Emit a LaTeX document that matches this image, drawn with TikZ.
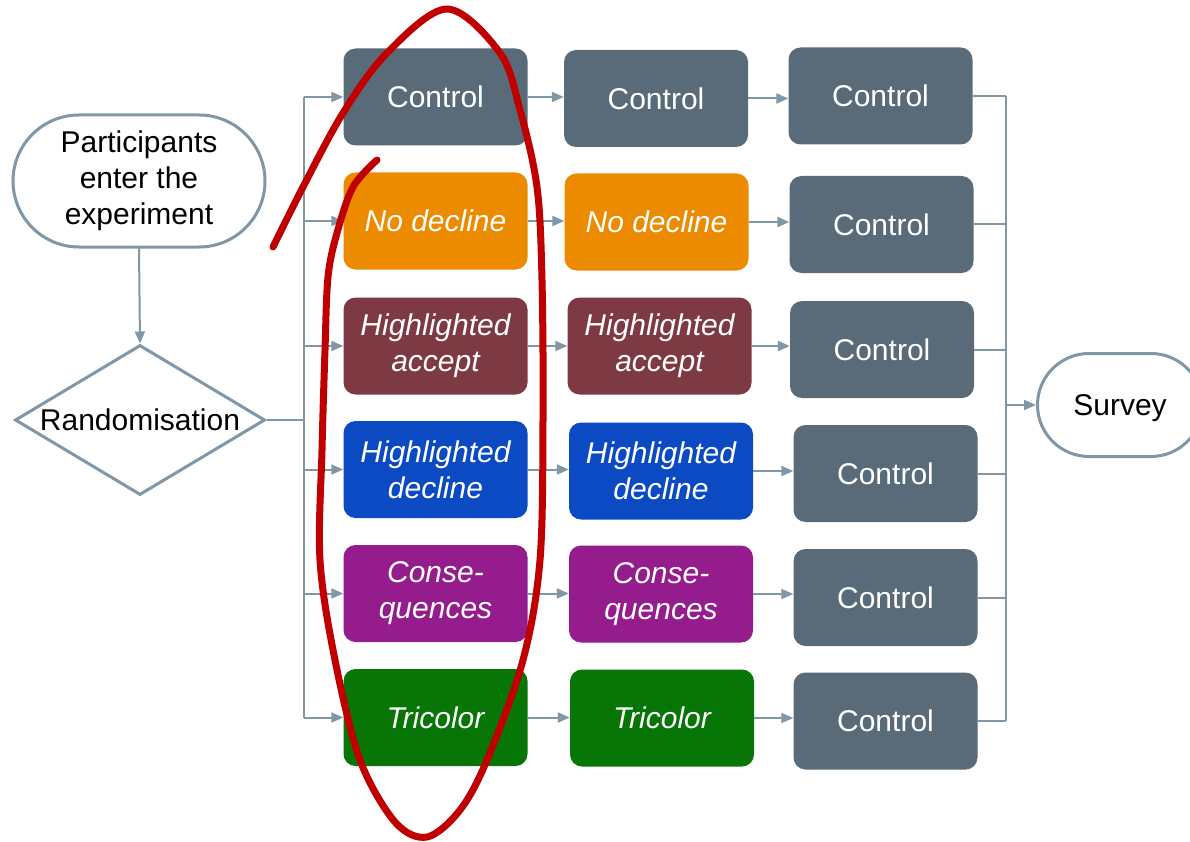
\documentclass[tikz,border=0pt]{standalone}
\usepackage{fontspec}
\setmainfont{Liberation Sans}
\usetikzlibrary{arrows.meta,shapes.geometric,shapes.misc}
\definecolor{boxgray}{HTML}{596B78}
\definecolor{boxorange}{HTML}{EC8A00}
\definecolor{boxmaroon}{HTML}{7E3A43}
\definecolor{boxblue}{HTML}{0B4AC2}
\definecolor{boxpurple}{HTML}{951C8C}
\definecolor{boxgreen}{HTML}{087507}
\definecolor{linec}{HTML}{7F97A6}
\definecolor{markred}{HTML}{C00000}
\tikzset{
  box/.style={rounded corners=12pt, minimum width=184pt, minimum height=97pt,
    inner sep=0pt, text=white, align=center, font=\fontsize{30}{36}\selectfont},
  term/.style={rounded rectangle, draw=linec, line width=3pt, fill=white,
    inner sep=0pt, align=center, font=\fontsize{30}{36}\selectfont},
  decide/.style={diamond, draw=linec, line width=3pt, fill=white, inner sep=0pt,
    shape aspect=1.667, minimum width=250pt, minimum height=150pt,
    font=\fontsize{30}{36}\selectfont},
  conn/.style={draw=linec, line width=2pt},
  arr/.style={-{Triangle[length=12pt,width=10pt]}},
  marker/.style={draw=markred, line width=7pt, line cap=round},
}
\begin{document}
\begin{tikzpicture}[x=1pt,y=-1pt]
\useasboundingbox (0,0) rectangle (1190,842);
\fill[white] (0,0) rectangle (1190,842);

% start / decision / end
\node[term, minimum width=252pt, minimum height=132pt] (start) at (139,181)
  {\raisebox{0pt}[0pt][0pt]{}Participants\\enter the\\experiment};
\node[decide] (rand) at (140,420) {Randomisation};
\node[term, minimum width=165pt, minimum height=103pt, text depth=0pt] (survey) at (1120,405) {Survey};

% column 1
\node[box, fill=boxgray]   (a1) at (435.5,97)    {Control};
\node[box, fill=boxorange] (a2) at (435.5,221)   {\itshape No decline};
\node[box, fill=boxmaroon] (a3) at (435.5,346)   {\itshape Highlighted\\\itshape accept};
\node[box, fill=boxblue]   (a4) at (435.5,469.5) {\itshape Highlighted\\\itshape decline};
\node[box, fill=boxpurple] (a5) at (435.5,593.5) {\itshape Conse-\\\itshape quences};
\node[box, fill=boxgreen]  (a6) at (435.5,717.5) {\itshape Tricolor};

% column 2
\node[box, fill=boxgray]   (b1) at (656,98.5)  {Control};
\node[box, fill=boxorange] (b2) at (656.5,222) {\itshape No decline};
\node[box, fill=boxmaroon] (b3) at (659.5,346) {\itshape Highlighted\\\itshape accept};
\node[box, fill=boxblue]   (b4) at (661,471)   {\itshape Highlighted\\\itshape decline};
\node[box, fill=boxpurple] (b5) at (661,594)   {\itshape Conse-\\\itshape quences};
\node[box, fill=boxgreen]  (b6) at (662,718)   {\itshape Tricolor};

% column 3
\node[box, fill=boxgray] (c1) at (880.5,96)    {Control};
\node[box, fill=boxgray] (c2) at (881.5,224.5) {Control};
\node[box, fill=boxgray] (c3) at (882,349.5)   {Control};
\node[box, fill=boxgray] (c4) at (885.5,473.5) {Control};
\node[box, fill=boxgray] (c5) at (885.5,597.5) {Control};
\node[box, fill=boxgray] (c6) at (885.5,721)   {Control};

% buses
\coordinate (lbus) at (304,420);
\coordinate (rbus) at (1006,405);

\draw[conn, arr] (start.south) -- (rand.north);
\draw[conn] (rand.east) -- (lbus);
\draw[conn] (lbus |- a1.west) -- (lbus |- a6.west);
\foreach \r in {1,...,6}{
  \draw[conn, arr] (lbus |- a\r.west) -- (a\r.west);
  \draw[conn, arr] (a\r.east) -- (a\r.east -| b\r.west);
  \draw[conn, arr] (b\r.east) -- (b\r.east -| c\r.west);
  \draw[conn] (c\r.east) -- (rbus |- c\r.east);
}
\draw[conn] (rbus |- c1.east) -- (rbus |- c6.east);
\draw[conn, arr] (rbus) -- (survey.west);

% red hand-drawn mark
\draw[marker] plot[smooth, tension=0.55] coordinates {
  (273,247) (303,187) (343,113) (387,53) (447,9) (500,53) (520,110)
  (537,187) (542,280) (543,420) (540,560) (523,660) (487,760) (460,810)
  (427,837) (395,822) (360,760) (335,660) (320,560) (322,450) (325,350)
  (328,277) (337,233) (353,187) (377,160)};
\end{tikzpicture}
\end{document}
